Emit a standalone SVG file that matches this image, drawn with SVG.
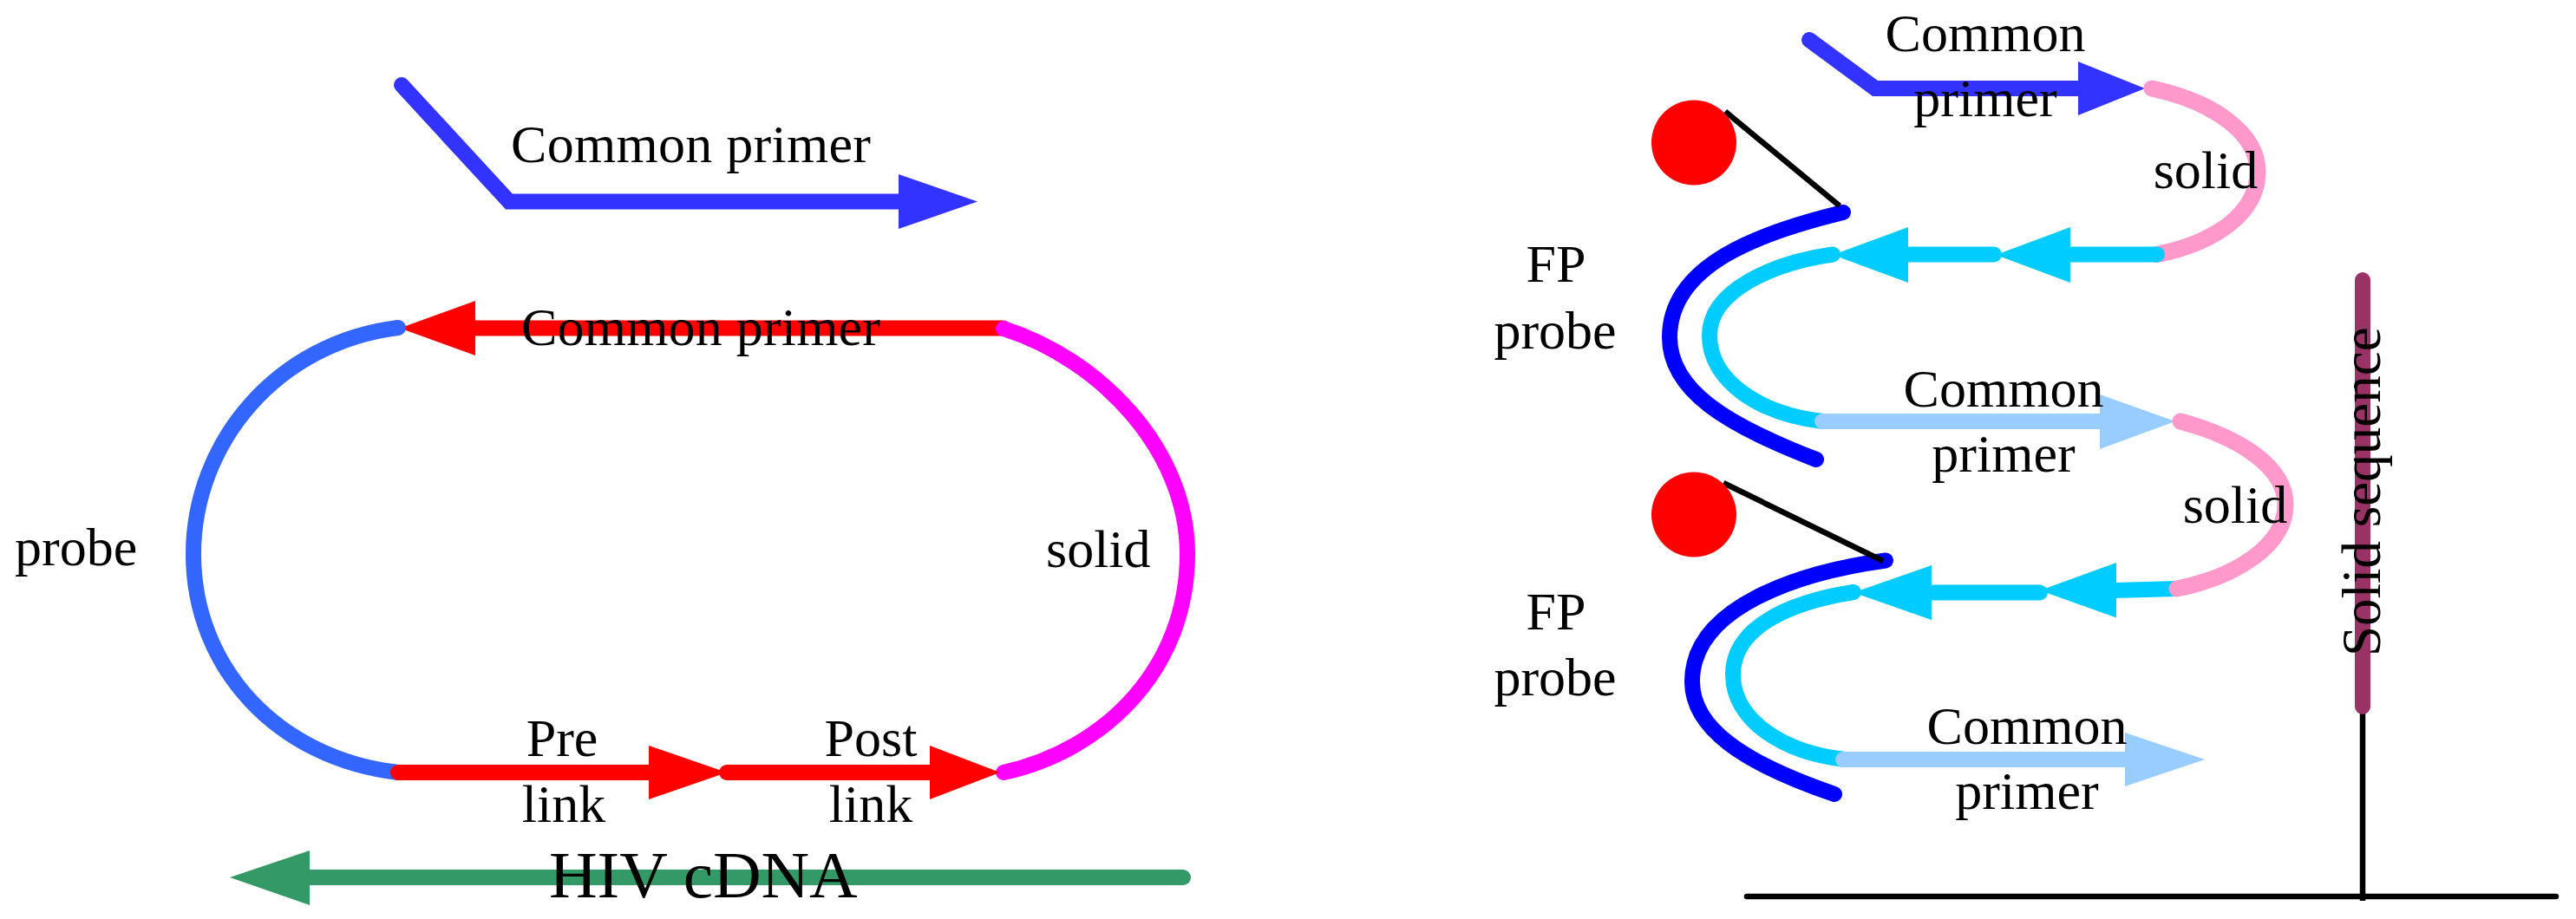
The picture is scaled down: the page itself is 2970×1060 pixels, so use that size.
<svg xmlns="http://www.w3.org/2000/svg" width="2970" height="1060" viewBox="0 0 2970 1060">
<style>
.l{fill:none;stroke-width:18;stroke-linecap:round;stroke-linejoin:miter}
.k{fill:none;stroke:#000;stroke-width:6.5}
.t{font-family:"Liberation Serif","Times New Roman",serif;font-size:62px;fill:#000}
.m{text-anchor:middle}
</style>
<rect width="2970" height="1060" fill="#fff"/>
<g id="connectors">
<path class="l" stroke="#3333ff" d="M463 98L587 232.6H1040"/>
<polygon fill="#3333ff" points="1036,201 1127,232.6 1036,264"/>
<path class="l" stroke="#ff0000" d="M1157 378.6H545"/>
<polygon fill="#ff0000" points="461,378.6 548,347 548,410"/>
<path class="l" stroke="#3366ff" d="M459 378C320 395 223 510 223 639C223 770 320 875 459 891"/>
<path class="l" stroke="#ff00ff" d="M1157 379C1270 415 1369 520 1369 639C1369 770 1275 865 1157 891"/>
<path class="l" stroke="#ff0000" d="M459 891H750"/>
<polygon fill="#ff0000" points="748,860 838,891 748,922"/>
<path class="l" stroke="#ff0000" d="M838 891H1075"/>
<polygon fill="#ff0000" points="1072,860 1153,891 1072,922"/>
<path class="l" stroke="#339966" d="M1364 1012H355"/>
<polygon fill="#339966" points="265,1012 357,981 357,1044"/>

<path class="l" stroke="#3333ff" d="M2086 46L2162 102H2400"/>
<polygon fill="#3333ff" points="2396,71 2473,102 2396,133"/>
<path class="l" stroke="#ff99cc" style="stroke-width:19" d="M2481 102C2555 118 2603 155 2603 198C2603 245 2555 280 2487 293.5"/>
<path class="l" stroke="#00ccff" d="M2113 293.5C2045 303 1971 335 1971 387C1971 440 2030 478 2102 486"/>
<path class="l" stroke="#00ccff" d="M2487 293.5H2385"/>
<polygon fill="#00ccff" points="2301,294 2387,262 2387,326"/>
<path class="l" stroke="#00ccff" d="M2299 293.5H2198"/>
<polygon fill="#00ccff" points="2113,294 2200,262 2200,326"/>
<path class="l" stroke="#0000ff" d="M2125 245C2030 268 1925 305 1925 389C1925 450 1990 490 2094 530"/>
<path class="l" stroke="#99ccff" d="M2101 486H2425"/>
<polygon fill="#99ccff" points="2421,455 2508,486 2421,518"/>
<path class="k" d="M1989 128.6L2121 237.5"/>

<path class="l" stroke="#00ccff" d="M2137 683C2060 695 1998 725 1998 778C1998 830 2055 868 2127 876"/>
<path class="l" stroke="#00ccff" d="M2510 679L2438 681"/>
<polygon fill="#00ccff" points="2352,681 2440,649 2440,712.5"/>
<path class="l" stroke="#00ccff" d="M2352 683.5H2225"/>
<polygon fill="#00ccff" points="2137,683.5 2227,652 2227,715"/>
<path class="l" stroke="#ff99cc" style="stroke-width:19" d="M2514 486C2585 505 2635 540 2635 582C2635 628 2580 665 2510 679"/>
<path class="l" stroke="#0000ff" d="M2174 646.5C2075 660 1951 700 1951 786C1951 840 2010 880 2115 916"/>
<path class="l" stroke="#99ccff" d="M2125 876H2455"/>
<polygon fill="#99ccff" points="2450,845 2542,876 2450,907"/>
<path class="k" d="M1987 557L2171 647"/>

<path class="k" d="M2724 823V1039"/>
<path class="l" stroke="#993366" d="M2724 323V815"/>
<path class="k" stroke-linecap="round" d="M2014 1034H2947"/>
</g>
<g id="node-primer-1"><text class="t" x="589" y="187" textLength="415">Common primer</text></g>
<g id="node-primer-2"><text class="t" x="601" y="398" textLength="414">Common primer</text></g>
<g id="node-probe"><text class="t" x="17" y="652">probe</text></g>
<g id="node-solid"><text class="t" x="1206" y="654">solid</text></g>
<g id="node-pre"><text class="t m" x="648" y="872">Pre</text><text class="t m" x="650" y="948">link</text></g>
<g id="node-post"><text class="t m" x="1004" y="872">Post</text><text class="t m" x="1004" y="948">link</text></g>
<g id="node-hiv"><text class="t" x="633" y="1035" style="font-size:77px">HIV cDNA</text></g>
<g id="node-primer-3"><text class="t m" x="2289" y="59">Common</text><text class="t m" x="2289" y="134">primer</text></g>
<g id="node-solid-2"><text class="t m" x="2543" y="217">solid</text></g>
<g id="node-dot-1"><ellipse cx="1953" cy="164.5" rx="49" ry="49" fill="#ff0000"/></g>
<g id="node-fp-1"><text class="t m" x="1794" y="325">FP</text><text class="t m" x="1793" y="402">probe</text></g>
<g id="node-primer-4"><text class="t m" x="2310" y="469">Common</text><text class="t m" x="2310" y="544">primer</text></g>
<g id="node-solid-3"><text class="t m" x="2577" y="603">solid</text></g>
<g id="node-dot-2"><ellipse cx="1953" cy="593.5" rx="49" ry="49" fill="#ff0000"/></g>
<g id="node-fp-2"><text class="t m" x="1794" y="726">FP</text><text class="t m" x="1793" y="802">probe</text></g>
<g id="node-primer-5"><text class="t m" x="2337" y="858">Common</text><text class="t m" x="2337" y="933">primer</text></g>
<g id="node-sequence"><text class="t" style="font-size:63px" transform="translate(2744 757) rotate(-90)">Solid sequence</text></g>
</svg>
